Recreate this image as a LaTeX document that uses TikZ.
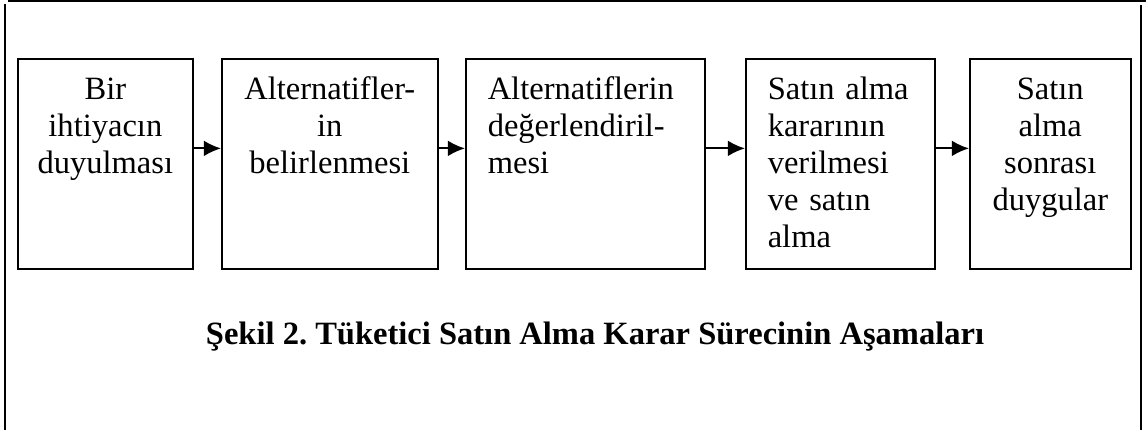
\documentclass[tikz,border=0pt]{standalone}
\usepackage{fontspec}
\setmainfont{Liberation Serif}
\usetikzlibrary{arrows.meta}
\tikzset{>={Latex[length=6.3pt,width=5.8pt]}}
\tikzstyle{stage}=[rectangle,draw=black,line width=0.6pt,anchor=north west,inner ysep=0pt,text height=15.1pt,text depth=62.4pt]
\tikzstyle{stagemid}=[stage,align=center,inner xsep=0pt]
\tikzstyle{stageleft}=[stage,align=left,inner xsep=8.1pt]
\tikzstyle{edge}=[line width=0.75pt]
\frenchspacing

\begin{document}
\begin{tikzpicture}[x=0.369pt,y=-0.369pt,font=\fontsize{12}{13.6}\selectfont]
    \useasboundingbox (0,0) rectangle (1146,430);

    \draw[edge] (8,1) -- (1146,1);
    \draw[edge] (5,4) -- (5,430);
    \draw[edge] (1141,5) -- (1141,430);

    \node[stagemid,text width=64.6pt] (s1) at (17,58) {Bir\\ihtiyacın\\duyulması};
    \node[stagemid,text width=79.7pt] (s2) at (221,58) {Alternatifler-\\in\\belirlenmesi};
    \node[stageleft,text width=72pt] (s3) at (465,58) {Alternatiflerin\\değerlendiril-\\mesi};
    \node[stageleft,text width=53.5pt] (s4) at (745,58) {Satın alma\\kararının\\verilmesi\\ve satın\\alma};
    \node[stagemid,text width=59.4pt] (s5) at (969,58) {Satın\\alma\\sonrası\\duygular};

    \foreach \i in {1,...,4} {
        \pgfmathtruncatemacro{\iplusone}{\i + 1};
        \draw[edge,->] ([yshift=5.7pt]s\i.east) -- ([yshift=5.7pt]s\iplusone.west);
    };

    \node[anchor=base,font=\fontsize{12}{13.6}\selectfont\bfseries] (cap) at (595,344) {Şekil 2. Tüketici Satın Alma Karar Sürecinin Aşamaları};
\end{tikzpicture}
\end{document}
